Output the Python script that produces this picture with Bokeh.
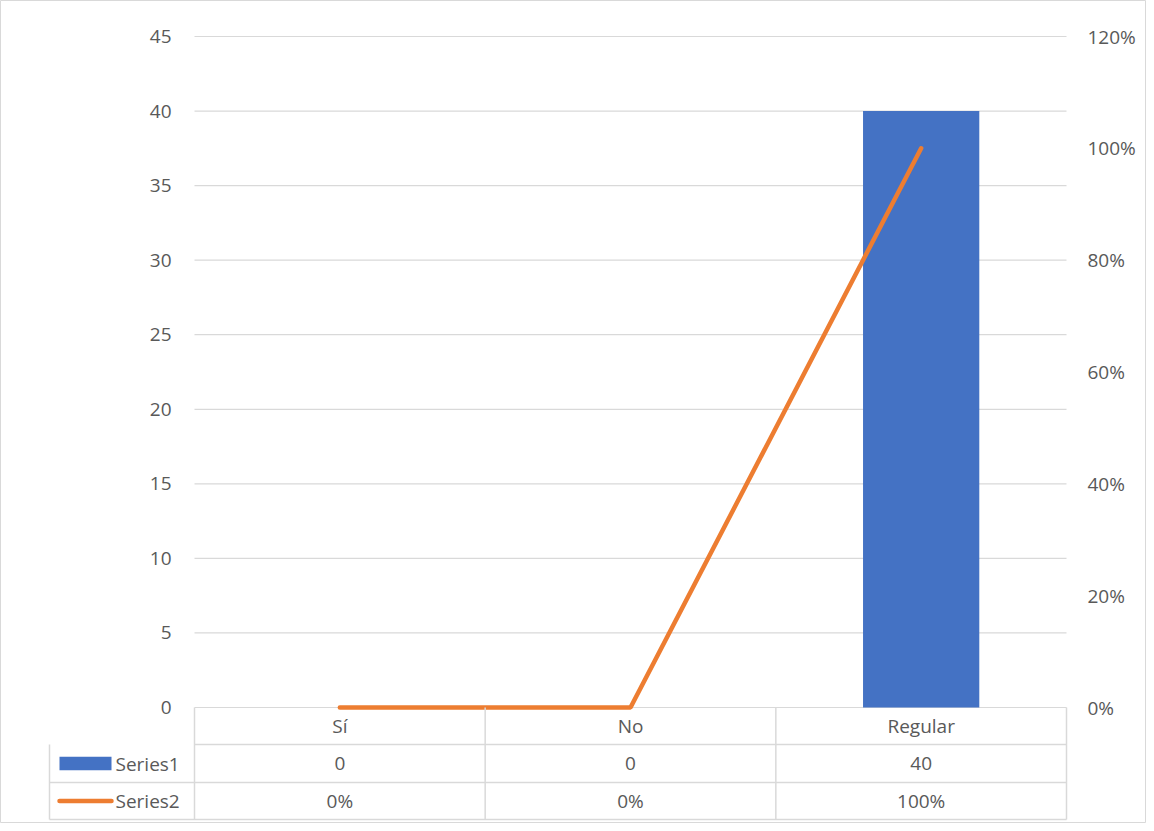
from bokeh.plotting import figure
from bokeh.models import Range1d
from bokeh.core.properties import value
from bokeh.embed import file_html
from bokeh.resources import INLINE

categories = ["Sí", "No", "Regular"]
series1 = [0, 0, 40]
series2 = [0.0, 0.0, 1.0]
left_ticks = [0, 5, 10, 15, 20, 25, 30, 35, 40, 45]
right_ticks = [0.0, 0.2, 0.4, 0.6, 0.8, 1.0, 1.2]

YMAX = 45.0
PMAX = 1.2
W, H = 1146, 823
OFF = 1
X0, X3 = 195, 1067
Y0, Y45 = 708, 37
ux = (X3 - X0) / 3.0
uy = (Y0 - Y45) / YMAX
def dx(px): return (px - X0) / ux
def dy(py): return (Y0 - py) / uy

p = figure(width=W, height=H, output_backend="svg", toolbar_location=None,
           x_range=Range1d(dx(OFF), dx(OFF + W)), y_range=Range1d(dy(OFF + H), dy(OFF)),
           min_border=0)
p.axis.visible = False
p.grid.visible = False
p.outline_line_color = "#d9d9d9"

font = value("Open Sans")
tc = "#595959"
gc = "#d9d9d9"
fs = "19px"

p.segment(x0=[0]*len(left_ticks), x1=[3]*len(left_ticks), y0=left_ticks, y1=left_ticks,
          line_color=gc, line_width=1.2)
p.text(x=[dx(172)]*len(left_ticks), y=left_ticks, text=[str(t) for t in left_ticks],
       text_align="right", text_baseline="middle", text_font=font, text_font_size=fs, text_color=tc)
ry = [r * YMAX / PMAX for r in right_ticks]
p.text(x=[dx(1088)]*len(ry), y=ry, text=[f"{int(round(r*100))}%" for r in right_ticks],
       text_align="left", text_baseline="middle", text_font=font, text_font_size=fs, text_color=tc)

xc = [i + 0.5 for i in range(len(categories))]
p.vbar(x=xc, top=series1, width=0.40, fill_color="#4472C4", line_color=None)
p.line(x=xc, y=[v * YMAX / PMAX for v in series2], line_color="#ED7D31", line_width=4.5, line_cap="round")

r1, r2, r3 = dy(745), dy(783), dy(820)
p.segment(x0=[0, dx(50), dx(50)], x1=[3, 3, 3], y0=[r1, r2, r3], y1=[r1, r2, r3], line_color=gc, line_width=1.5)
p.segment(x0=[0, 1, 2, 3], x1=[0, 1, 2, 3], y0=[0]*4, y1=[r3]*4, line_color=gc, line_width=1.5)
p.segment(x0=[dx(50)], x1=[dx(50)], y0=[r1], y1=[r3], line_color=gc, line_width=1.5)
p.text(x=xc, y=[(0 + r1) / 2]*3, text=categories, text_align="center", text_baseline="middle",
       text_font=font, text_font_size=fs, text_color=tc)
p.text(x=xc, y=[(r1 + r2) / 2]*3, text=[str(v) for v in series1], text_align="center", text_baseline="middle",
       text_font=font, text_font_size=fs, text_color=tc)
p.text(x=xc, y=[(r2 + r3) / 2]*3, text=[f"{int(round(v*100))}%" for v in series2], text_align="center",
       text_baseline="middle", text_font=font, text_font_size=fs, text_color=tc)
p.text(x=[dx(116)]*2, y=[(r1 + r2) / 2, (r2 + r3) / 2], text=["Series1", "Series2"], text_align="left",
       text_baseline="middle", text_font=font, text_font_size=fs, text_color=tc)
p.quad(left=[dx(60)], right=[dx(112)], bottom=[(r1 + r2) / 2 - 0.45], top=[(r1 + r2) / 2 + 0.45],
       fill_color="#4472C4", line_color=None)
p.segment(x0=[dx(60)], x1=[dx(112)], y0=[(r2 + r3) / 2], y1=[(r2 + r3) / 2], line_color="#ED7D31",
          line_width=4.5, line_cap="round")

open("out.html", "w").write(file_html(p, INLINE))
